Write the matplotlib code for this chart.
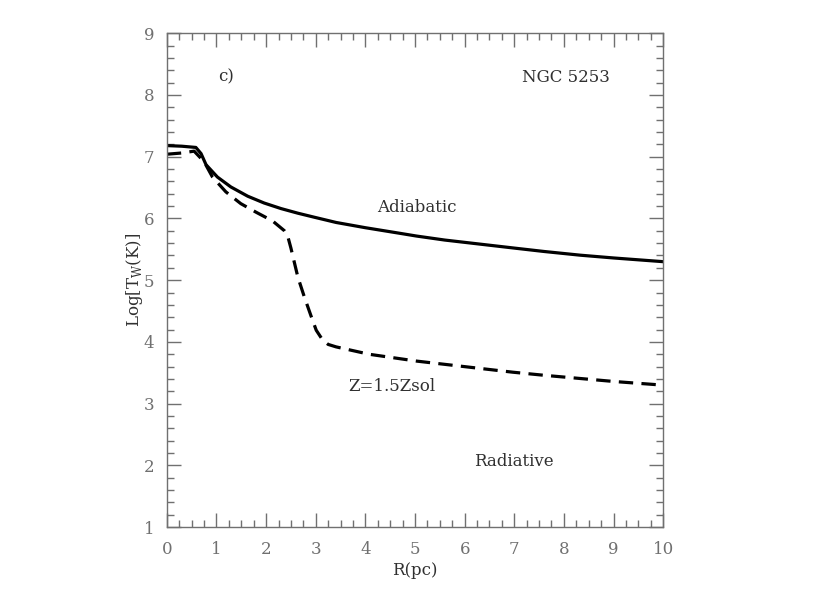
import matplotlib
matplotlib.use("Agg")
import matplotlib.pyplot as plt
from matplotlib.ticker import MultipleLocator

# Adiabatic (solid) curve
r_adi = [0.0, 0.3, 0.585, 0.69, 0.79, 1.02, 1.29, 1.63, 1.96, 2.30, 2.64, 2.97, 3.41, 4.0,
         4.69, 5.03, 5.6, 6.3, 7.0, 7.6, 8.33, 9.0, 9.5, 10.0]
t_adi = [7.18, 7.17, 7.15, 7.05, 6.87, 6.67, 6.51, 6.36, 6.25, 6.16, 6.085, 6.02, 5.935, 5.85,
         5.76, 5.715, 5.65, 5.585, 5.52, 5.465, 5.405, 5.36, 5.33, 5.30]

# Radiative Z=1.5Zsol (dashed) curve
r_rad = [0.0, 0.3, 0.55, 0.75, 0.92, 1.19, 1.49, 1.80, 2.13, 2.37, 2.43, 2.50, 2.64, 2.77,
         2.91, 3.01, 3.14, 3.25, 3.41, 4.08, 5.03, 6.0, 6.97, 7.6, 8.3, 9.0, 10.0]
t_rad = [7.04, 7.06, 7.09, 6.92, 6.67, 6.43, 6.24, 6.10, 5.96, 5.80, 5.73, 5.52, 5.05, 4.73,
         4.41, 4.19, 4.03, 3.96, 3.92, 3.80, 3.69, 3.60, 3.51, 3.46, 3.41, 3.36, 3.30]

labels = ["c)", "NGC 5253", "Adiabatic", "Z=1.5Zsol", "Radiative"]
label_x = [1.19, 8.05, 5.03, 4.53, 7.0]
label_y = [8.29, 8.29, 6.18, 3.28, 2.07]

axcol = "#707070"
txtcol = "#303030"
plt.rcParams["font.family"] = ["DejaVu Serif"]

fig = plt.figure(figsize=(8.3, 5.93), dpi=100)
ax = fig.add_axes([0.201, 0.111, 0.598, 0.833])

ax.plot(r_adi, t_adi, color="black", lw=2.3, solid_joinstyle="round")
ax.plot(r_rad, t_rad, color="black", lw=2.3, dashes=(4.5, 2.6))

for s, x, y in zip(labels, label_x, label_y):
    ax.text(x, y, s, ha="center", va="center", fontsize=12, color=txtcol)

ax.set_xlim(0, 10)
ax.set_ylim(1, 9)
ax.xaxis.set_major_locator(MultipleLocator(1))
ax.xaxis.set_minor_locator(MultipleLocator(0.25))
ax.yaxis.set_major_locator(MultipleLocator(1))
ax.yaxis.set_minor_locator(MultipleLocator(0.2))
ax.tick_params(which="both", direction="in", top=True, right=True, color=axcol,
               labelcolor=axcol, labelsize=12)
ax.tick_params(which="major", length=10, width=1)
ax.tick_params(which="minor", length=5, width=1)
ax.tick_params(axis="x", which="major", pad=10)
ax.tick_params(axis="y", which="major", pad=9)
for sp in ax.spines.values():
    sp.set_color(axcol)
    sp.set_linewidth(1)

ax.set_xlabel("R(pc)", color=txtcol, fontsize=12, labelpad=3)
ax.set_ylabel(r"Log[T$_\mathregular{W}$(K)]", color=txtcol, fontsize=12, labelpad=-1)

fig.savefig("out.png", dpi=100)
